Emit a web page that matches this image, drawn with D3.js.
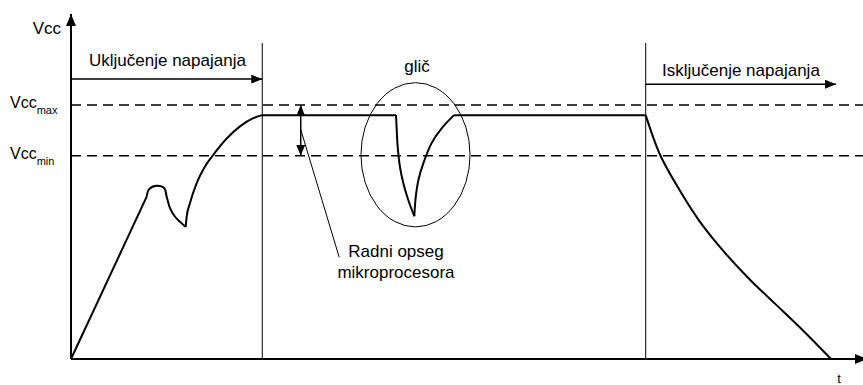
<!DOCTYPE html>
<html>
<head>
<meta charset="utf-8">
<script src="https://cdn.jsdelivr.net/npm/d3@7"></script>
<style>
  body { margin: 0; background: #fff; }
  svg { display: block; }
  text { font-family: "Liberation Sans", Arial, sans-serif; fill: #000; }
</style>
</head>
<body>
<div id="chart"></div>
<script>
// levels (Vcc units, Vccmax = 5)
var vccMax = 5;
var vccMin = 4;
var levelLabels = ["max", "min"];

// phase boundaries on t
var phaseMarks = [24.03, 72.2];
var phaseLabels = ["Uključenje napajanja", "Isključenje napajanja"];

// Vcc trace, piece by piece [t, v]
var rampUp = [[0, 0], [9.51, 3.195]];
var bumpDip = [[9.51, 3.195], [9.80, 3.34], [10.77, 3.41], [11.72, 3.36], [12.02, 3.195],
               [12.44, 2.97], [13.07, 2.80], [13.91, 2.67], [14.41, 2.60]];
var riseToMax = [[14.41, 2.60], [14.53, 2.80], [14.95, 3.07], [15.79, 3.46], [16.83, 3.79],
                 [17.88, 4.02], [19.56, 4.34], [21.23, 4.58], [22.90, 4.74], [24.03, 4.80]];
var plateauA = [[24.03, 4.80], [40.83, 4.80]];
var glitchFall = [[40.83, 4.80], [40.92, 4.51], [41.04, 4.18], [41.33, 3.78], [41.75, 3.46],
                  [42.37, 3.13], [43.13, 2.81]];
var glitchRecover = [[43.13, 2.81], [43.31, 3.19], [43.64, 3.52], [44.26, 3.85], [45.30, 4.25],
                     [46.56, 4.54], [48.12, 4.80]];
var plateauB = [[48.12, 4.80], [72.2, 4.80]];
var powerDown = [[72.2, 4.80], [74.0, 4.02], [76.13, 3.41], [79.02, 2.70], [82.16, 2.09],
                 [85.30, 1.56], [88.44, 1.09], [91.58, 0.62], [95.48, 0]];

var width = 863, height = 385;

var x = d3.scaleLinear().domain([0, 100]).range([71, 867]);
var y = d3.scaleLinear().domain([0, 5]).range([359, 105]);

var svg = d3.select("#chart").append("svg")
    .attr("width", width)
    .attr("height", height);

// arrow heads
var defs = svg.append("defs");
function arrowDef(id, len, half) {
  defs.append("marker")
      .attr("id", id)
      .attr("markerUnits", "userSpaceOnUse")
      .attr("viewBox", "0 " + (-half) + " " + len + " " + (2 * half))
      .attr("refX", len).attr("refY", 0)
      .attr("markerWidth", len).attr("markerHeight", 2 * half)
      .attr("orient", "auto-start-reverse")
    .append("path")
      .attr("d", "M0," + (-half) + "L" + len + ",0L0," + half + "Z")
      .attr("fill", "#000");
}
arrowDef("axisHead", 12, 5);
arrowDef("smallHead", 11, 4.5);
arrowDef("rangeHead", 11, 4.5);

// dashed Vcc levels
svg.selectAll(".level")
    .data([vccMax, vccMin])
  .enter().append("line")
    .attr("class", "level")
    .attr("x1", x(0)).attr("x2", width)
    .attr("y1", function(d) { return y(d); })
    .attr("y2", function(d) { return y(d); })
    .style("stroke", "#000")
    .style("stroke-width", 1.5)
    .style("stroke-dasharray", "10,6");

// phase boundaries
svg.selectAll(".phase")
    .data(phaseMarks)
  .enter().append("line")
    .attr("class", "phase")
    .attr("x1", function(d) { return x(d); })
    .attr("x2", function(d) { return x(d); })
    .attr("y1", y(6.22)).attr("y2", y(0))
    .style("stroke", "#000")
    .style("stroke-width", 1);

// phase arrows
svg.append("line")
    .attr("x1", x(0)).attr("x2", x(phaseMarks[0]))
    .attr("y1", y(5.51)).attr("y2", y(5.51))
    .style("stroke", "#000").style("stroke-width", 1.5)
    .attr("marker-end", "url(#smallHead)");
svg.append("line")
    .attr("x1", x(phaseMarks[1])).attr("x2", x(96.1))
    .attr("y1", y(5.41)).attr("y2", y(5.41))
    .style("stroke", "#000").style("stroke-width", 1.5)
    .attr("marker-end", "url(#smallHead)");

// axes
svg.append("line")
    .attr("x1", x(0)).attr("x2", x(0))
    .attr("y1", y(0)).attr("y2", y(6.79))
    .style("stroke", "#000").style("stroke-width", 2)
    .attr("marker-end", "url(#axisHead)");
svg.append("line")
    .attr("x1", x(0)).attr("x2", x(100))
    .attr("y1", y(0)).attr("y2", y(0))
    .style("stroke", "#000").style("stroke-width", 2)
    .attr("marker-end", "url(#axisHead)");

// the trace
var straight = d3.line().x(function(d) { return x(d[0]); }).y(function(d) { return y(d[1]); });
var smooth = d3.line().x(function(d) { return x(d[0]); }).y(function(d) { return y(d[1]); })
    .curve(d3.curveCatmullRom.alpha(0.5));
var mono = d3.line().x(function(d) { return x(d[0]); }).y(function(d) { return y(d[1]); })
    .curve(d3.curveMonotoneX);

[[rampUp, straight], [bumpDip, smooth], [riseToMax, mono], [plateauA, straight],
 [glitchFall, smooth], [glitchRecover, smooth], [plateauB, straight], [powerDown, smooth]]
  .forEach(function(p) {
    svg.append("path")
        .attr("d", p[1](p[0]))
        .style("fill", "none")
        .style("stroke", "#000")
        .style("stroke-width", 2)
        .style("stroke-linejoin", "round");
  });

// working range double arrow
svg.append("line")
    .attr("x1", x(28.86)).attr("x2", x(28.86))
    .attr("y1", y(4.5)).attr("y2", y(vccMax))
    .style("stroke", "#000").style("stroke-width", 1.5)
    .attr("marker-end", "url(#rangeHead)");
svg.append("line")
    .attr("x1", x(28.86)).attr("x2", x(28.86))
    .attr("y1", y(4.5)).attr("y2", y(vccMin))
    .style("stroke", "#000").style("stroke-width", 1.5)
    .attr("marker-end", "url(#rangeHead)");

// leader to label
svg.append("line")
    .attr("x1", x(28.8)).attr("y1", y(4.55))
    .attr("x2", x(33.7)).attr("y2", y(2.0))
    .style("stroke", "#000").style("stroke-width", 1);

// glitch ellipse
svg.append("ellipse")
    .attr("cx", x(43.28)).attr("cy", y(4.02))
    .attr("rx", x(6.85) - x(0)).attr("ry", y(0) - y(1.42))
    .style("fill", "none")
    .style("stroke", "#000")
    .style("stroke-width", 1);

// texts
svg.append("text")
    .attr("x", 61).attr("y", 34)
    .attr("text-anchor", "end")
    .style("font-size", "17px")
    .text("Vcc");

svg.selectAll(".levelLabel")
    .data([vccMax, vccMin])
  .enter().append("text")
    .attr("class", "levelLabel")
    .attr("x", 10).attr("y", function(d) { return y(d) + 3; })
    .style("font-size", "16px")
    .each(function(d, i) {
      var t = d3.select(this);
      t.append("tspan").text("Vcc");
      t.append("tspan").attr("dy", 6).style("font-size", "11px").text(levelLabels[i]);
    });

svg.append("text")
    .attr("x", 89).attr("y", 66)
    .style("font-size", "17px")
    .text(phaseLabels[0]);
svg.append("text")
    .attr("x", 662).attr("y", 76)
    .style("font-size", "17px")
    .text(phaseLabels[1]);

svg.append("text")
    .attr("x", 417).attr("y", 72)
    .attr("text-anchor", "middle")
    .style("font-size", "17px")
    .text("glič");

svg.append("text")
    .attr("x", 396).attr("y", 257)
    .attr("text-anchor", "middle")
    .style("font-size", "17px")
    .text("Radni opseg");
svg.append("text")
    .attr("x", 396).attr("y", 278)
    .attr("text-anchor", "middle")
    .style("font-size", "17px")
    .text("mikroprocesora");

svg.append("text")
    .attr("x", 839).attr("y", 383)
    .attr("text-anchor", "middle")
    .style("font-size", "13px")
    .text("t");
</script>
</body>
</html>
